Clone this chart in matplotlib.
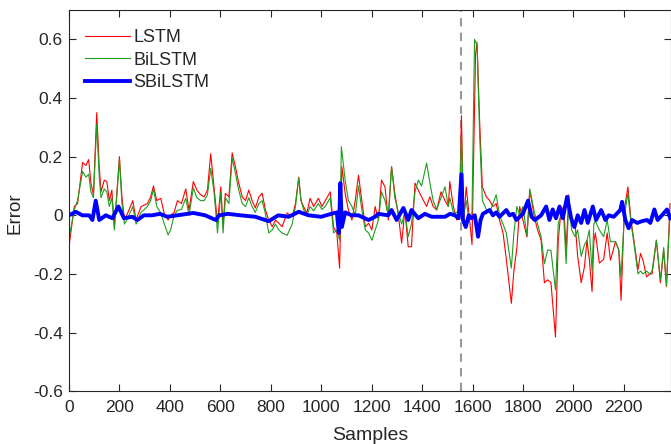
import matplotlib
matplotlib.use("Agg")
import matplotlib.pyplot as plt

plt.rcParams['font.family'] = ['Liberation Sans', 'DejaVu Sans']
plt.rcParams['axes.unicode_minus'] = False

# ---- data ----
lstm_x = [0, 21, 34, 54, 67, 78, 87, 97, 110, 120, 127, 140, 150, 160, 170, 180, 200, 210, 220, 233,
          253, 266, 286, 299, 311, 324, 335, 348, 364, 377, 393, 403, 417, 430, 446, 463, 476, 493, 507, 522,
          536, 549, 562, 575, 589, 602, 611, 620, 634, 647, 660, 673, 687, 700, 713, 726, 739, 753, 766, 779,
          792, 806, 819, 832, 845, 865, 885, 898, 911, 920, 930, 943, 956, 970, 989, 1003, 1016, 1036, 1049, 1062,
          1073, 1082, 1095, 1108, 1122, 1135, 1148, 1161, 1175, 1188, 1201, 1214, 1227, 1239, 1253, 1266, 1279, 1292, 1306, 1319,
          1332, 1345, 1358, 1372, 1385, 1398, 1418, 1431, 1444, 1458, 1475, 1491, 1504, 1510, 1524, 1537, 1548, 1556, 1565, 1575,
          1586, 1598, 1612, 1618, 1628, 1639, 1655, 1668, 1681, 1694, 1707, 1721, 1734, 1754, 1764, 1776, 1787, 1800, 1816, 1827,
          1845, 1858, 1872, 1885, 1898, 1911, 1929, 1940, 1951, 1962, 1971, 1982, 1993, 2007, 2017, 2031, 2044, 2054, 2063, 2074,
          2081, 2087, 2103, 2120, 2134, 2147, 2167, 2180, 2189, 2202, 2216, 2229, 2240, 2256, 2266, 2276, 2290, 2303, 2312, 2329,
          2345, 2358, 2369, 2383]
lstm_y = [-0.107, 0.03, 0.04, 0.18, 0.17, 0.19, 0.11, 0.07, 0.35, 0.165, 0.08, 0.12, 0.115, 0.05, 0.086, -0.04, 0.2, 0.063, -0.016, 0.008,
          0.05, -0.015, 0.03, 0.035, 0.04, 0.063, 0.1, 0.05, 0.058, 0.008, -0.016, 0.0, 0.01, 0.05, 0.04, 0.09, 0.018, 0.115, 0.086, 0.07,
          0.063, 0.086, 0.21, 0.097, -0.026, 0.097, -0.035, 0.075, 0.063, 0.213, 0.165, 0.11, 0.063, 0.05, 0.086, 0.05, 0.025, 0.063, 0.075, 0.018,
          -0.016, -0.039, -0.016, -0.027, -0.039, 0.008, -0.005, 0.04, 0.13, 0.05, 0.03, 0.008, 0.058, 0.03, 0.058, 0.03, 0.05, 0.08, -0.04, -0.06,
          -0.18, 0.166, 0.075, 0.018, -0.016, 0.05, 0.137, 0.05, -0.039, -0.027, -0.05, 0.03, -0.016, 0.12, 0.097, -0.016, 0.166, 0.075, 0.0, -0.095,
          0.018, -0.107, -0.107, 0.11, 0.086, 0.063, 0.03, 0.063, 0.03, 0.018, 0.08, 0.05, 0.03, 0.115, 0.03, -0.016, -0.005, 0.34, -0.016, 0.097,
          0.005, -0.1, 0.55, 0.59, 0.325, 0.097, 0.063, 0.05, 0.03, 0.04, -0.016, -0.06, -0.15, -0.30, -0.19, -0.11, 0.03, -0.016, -0.074, 0.086,
          -0.005, -0.05, -0.085, -0.23, -0.22, -0.23, -0.415, -0.085, 0.018, 0.03, -0.118, 0.07, -0.04, -0.03, -0.14, -0.23, -0.175, -0.085, -0.15, -0.26,
          -0.09, -0.06, -0.163, -0.15, -0.06, -0.153, -0.09, -0.118, -0.29, 0.018, 0.097, -0.02, -0.085, -0.186, -0.13, -0.153, -0.21, -0.2, -0.2, -0.085,
          -0.23, -0.12, -0.243, 0.04]

bilstm_x = [0, 21, 34, 54, 67, 78, 87, 97, 110, 120, 127, 140, 150, 160, 170, 180, 200, 210, 220, 233,
            253, 266, 286, 299, 311, 324, 335, 348, 364, 377, 393, 403, 417, 430, 446, 463, 476, 493, 507, 522,
            536, 549, 562, 575, 589, 602, 611, 620, 634, 647, 660, 673, 687, 700, 713, 726, 739, 753, 766, 779,
            792, 806, 819, 832, 845, 865, 885, 898, 911, 920, 930, 943, 956, 970, 989, 1003, 1016, 1036, 1049, 1062,
            1073, 1080, 1095, 1108, 1122, 1135, 1148, 1161, 1175, 1188, 1201, 1214, 1227, 1239, 1253, 1266, 1279, 1292, 1306, 1319,
            1332, 1345, 1358, 1372, 1385, 1398, 1418, 1431, 1444, 1458, 1475, 1491, 1504, 1510, 1524, 1537, 1548, 1556, 1565, 1575,
            1586, 1598, 1608, 1618, 1628, 1639, 1655, 1668, 1681, 1694, 1707, 1721, 1734, 1754, 1764, 1776, 1787, 1800, 1816, 1827,
            1845, 1858, 1872, 1885, 1898, 1911, 1929, 1940, 1951, 1962, 1971, 1982, 1993, 2007, 2017, 2031, 2044, 2054, 2063, 2074,
            2081, 2087, 2103, 2120, 2134, 2147, 2167, 2180, 2189, 2202, 2216, 2229, 2240, 2256, 2266, 2276, 2290, 2303, 2312, 2329,
            2345, 2358, 2369, 2383]
bilstm_y = [-0.08, 0.02, 0.05, 0.15, 0.13, 0.14, 0.08, 0.06, 0.31, 0.13, 0.06, 0.09, 0.08, 0.03, 0.06, -0.05, 0.19, 0.04, -0.03, -0.01,
            0.03, -0.03, 0.01, 0.02, 0.03, 0.05, 0.09, 0.03, 0.008, -0.027, -0.067, -0.05, 0.0, 0.017, 0.02, 0.058, 0.0, 0.093, 0.06, 0.05,
            0.05, 0.07, 0.16, 0.08, -0.06, 0.08, -0.06, 0.06, 0.04, 0.195, 0.143, 0.086, 0.04, 0.03, 0.06, 0.03, 0.01, 0.04, 0.05, 0.005,
            -0.06, -0.05, -0.03, -0.05, -0.06, -0.068, -0.03, 0.03, 0.127, 0.05, 0.02, 0.0, 0.03, 0.015, 0.04, 0.02, 0.03, 0.06, -0.06, -0.05,
            -0.085, 0.234, 0.12, 0.05, 0.03, 0.0, 0.1, 0.02, -0.05, -0.06, -0.085, -0.05, -0.016, 0.08, 0.05, 0.0, 0.166, 0.06, 0.01, -0.03,
            0.01, -0.073, -0.03, 0.08, 0.12, 0.1, 0.178, 0.11, 0.05, 0.02, 0.06, 0.097, 0.03, 0.06, 0.01, 0.01, 0.0, 0.27, 0.0, 0.05,
            -0.016, 0.01, 0.6, 0.58, 0.28, 0.05, 0.02, 0.01, 0.04, 0.07, 0.0, -0.03, -0.06, -0.18, -0.06, 0.03, 0.0, 0.03, -0.07, 0.09,
            0.012, -0.03, -0.073, -0.165, -0.118, -0.12, -0.255, -0.027, 0.0, -0.01, -0.165, 0.05, -0.05, -0.073, -0.05, -0.14, -0.1, -0.085, -0.05, -0.19,
            -0.03, -0.02, -0.05, -0.073, -0.016, -0.09, -0.09, -0.118, -0.21, 0.0, 0.075, -0.03, -0.095, -0.2, -0.19, -0.2, -0.19, -0.2, -0.19, -0.085,
            -0.22, -0.11, -0.24, 0.008]

sbilstm_x = [0, 27, 53, 80, 93, 106, 120, 146, 172, 196, 218, 251, 271, 297, 330, 360, 390, 430, 470, 493,
             540, 582, 595, 630, 680, 739, 792, 830, 871, 911, 950, 1000, 1040, 1062, 1070, 1076, 1082, 1095, 1120, 1148,
             1188, 1214, 1226, 1266, 1279, 1299, 1326, 1345, 1358, 1385, 1411, 1438, 1465, 1491, 1511, 1530, 1545, 1556, 1562, 1573,
             1585, 1596, 1609, 1622, 1632, 1641, 1668, 1681, 1694, 1707, 1734, 1747, 1761, 1774, 1800, 1820, 1834, 1847, 1872, 1892,
             1905, 1918, 1931, 1945, 1958, 1975, 1991, 2004, 2017, 2031, 2044, 2057, 2077, 2090, 2110, 2127, 2140, 2160, 2186, 2193,
             2206, 2219, 2233, 2253, 2272, 2292, 2305, 2321, 2334, 2351, 2371, 2384]
sbilstm_y = [0.0, 0.012, 0.0, 0.0, -0.016, 0.05, -0.016, 0.0, -0.01, 0.03, -0.01, -0.005, -0.016, 0.0, 0.0, 0.005, -0.005, 0.0, 0.005, 0.008,
             0.0, -0.016, 0.0, 0.005, 0.0, -0.005, -0.02, 0.0, -0.005, 0.012, 0.0, -0.005, 0.005, 0.01, -0.06, 0.11, -0.04, 0.01, 0.0, 0.0,
             -0.016, -0.005, 0.005, 0.0, 0.018, -0.016, 0.025, -0.016, 0.018, -0.01, 0.005, -0.005, -0.005, -0.005, 0.005, 0.0, -0.01, 0.14, -0.016, -0.04,
             0.0, -0.01, 0.0, -0.073, -0.016, 0.005, 0.018, 0.0, 0.01, -0.005, 0.018, 0.0, 0.005, -0.016, 0.005, 0.05, -0.005, -0.016, 0.0, 0.03,
             -0.016, 0.02, -0.01, 0.03, -0.01, 0.063, -0.01, -0.04, 0.0, -0.026, 0.018, -0.026, 0.03, -0.016, 0.018, -0.016, 0.0, -0.005, 0.018, 0.046,
             -0.016, -0.044, -0.016, -0.026, -0.02, -0.016, -0.026, 0.02, -0.016, 0.0, 0.02, -0.01]

split_sample = 1556
x_ticks = [0, 200, 400, 600, 800, 1000, 1200, 1400, 1600, 1800, 2000, 2200]
y_ticks = [-0.6, -0.4, -0.2, 0, 0.2, 0.4, 0.6]
y_tick_labels = ['-0.6', '-0.4', '-0.2', '0', '0.2', '0.4', '0.6']

# ---- figure ----
fig = plt.figure(figsize=(6.71, 4.44), dpi=100)
ax = fig.add_axes([0.1028, 0.1187, 0.8972, 0.8588])

tc = '#262626'
ax.plot(lstm_x, lstm_y, color='#ff0000', lw=0.8, label='LSTM')
ax.plot(bilstm_x, bilstm_y, color='#1f9e1f', lw=0.8, label='BiLSTM')
ax.plot(sbilstm_x, sbilstm_y, color='#0000ff', lw=2.8, label='SBiLSTM')
ax.axvline(split_sample, color='#999999', lw=1.5, ls=(0, (4, 3)), zorder=0.5)

ax.set_xlim(0, 2387)
ax.set_ylim(-0.6, 0.7)
ax.set_xticks(x_ticks)
ax.set_xticklabels([str(t) for t in x_ticks])
ax.set_yticks(y_ticks)
ax.set_yticklabels(y_tick_labels)
ax.tick_params(direction='in', top=True, right=True, length=5, width=0.8,
               labelsize=12.5, colors=tc)
ax.tick_params(axis='y', pad=4.5)
ax.tick_params(axis='x', pad=6)
for s in ax.spines.values():
    s.set_color(tc)
    s.set_linewidth(0.8)

ax.set_xlabel('Samples', fontsize=14, color=tc)
ax.set_ylabel('Error', fontsize=13.5, color=tc)
ax.xaxis.set_label_coords(0.5, -0.093)
ax.yaxis.set_label_coords(-0.076, 0.467)

leg = ax.legend(loc='upper left', frameon=False, fontsize=13, handlelength=2.5,
                handletextpad=0.2, labelspacing=0.3, borderaxespad=0.3,
                bbox_to_anchor=(0.005, 0.983))
for t in leg.get_texts():
    t.set_color(tc)

fig.savefig('out.png', dpi=100)
